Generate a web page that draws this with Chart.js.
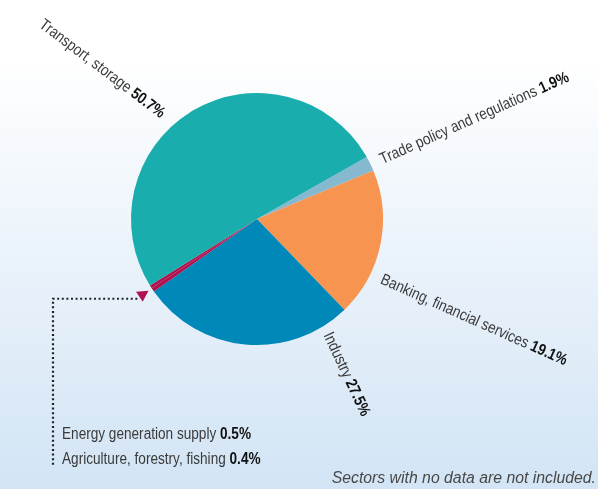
<!DOCTYPE html>
<html>
<head>
<meta charset="utf-8">
<script src="https://cdn.jsdelivr.net/npm/chart.js@4"></script>
<style>
  html, body { margin: 0; padding: 0; }
  body {
    width: 598px;
    height: 489px;
    overflow: hidden;
    background: linear-gradient(to bottom, #ffffff 12%, #d2e4f5 100%);
  }
  #wrap { position: relative; width: 598px; height: 489px; }
</style>
</head>
<body>
<div id="wrap"><canvas id="grafica" width="598" height="489"></canvas></div>
<script>
// sectors, in drawing order (clockwise from the trade slice)
const sectores = [
  "Trade policy and regulations",
  "Banking, financial services",
  "Industry",
  "Energy generation supply",
  "Agriculture, forestry, fishing",
  "Transport, storage"
];
const porcentajes = [1.9, 19.1, 27.5, 0.5, 0.4, 50.7];
const colores = ["#86b8cf", "#f7944f", "#0088b8", "#b0124f", "#b0124f", "#1aadad"];
const nota = "Sectors with no data are not included.";

// where the rotated labels sit around the pie (angle from centre, text rotation)
const etiquetas = [
  { idx: 0, angulo: -25.4, giro: -24, separacion: 11, alinear: "left" },
  { idx: 1, angulo: 25.8, giro: 24, separacion: 12, alinear: "left" },
  { idx: 2, angulo: 58.4, giro: 65, separacion: 8, alinear: "left" },
  { idx: 5, angulo: 227.9, giro: 37, separacion: 14, alinear: "right" }
];
// the two tiny slices are explained in the corner instead
const notasAbajo = [3, 4];

// no condensed font here, so squeeze a normal one
const fuente = '"Liberation Sans", Arial, sans-serif';
const estrechar = 0.85;

function textoConPorcentaje(ctx, nombre, valor, alinear) {
  ctx.scale(estrechar, 1);
  ctx.font = "16px " + fuente;
  const parte1 = nombre + " ";
  const ancho1 = ctx.measureText(parte1).width;
  ctx.font = "bold 16px " + fuente;
  const parte2 = valor.toFixed(1) + "%";
  const ancho2 = ctx.measureText(parte2).width;
  let x = alinear === "right" ? -(ancho1 + ancho2) : 0;
  ctx.font = "16px " + fuente;
  ctx.fillStyle = "#3a3a3a";
  ctx.fillText(parte1, x, 0);
  ctx.font = "bold 16px " + fuente;
  ctx.fillStyle = "#111111";
  ctx.fillText(parte2, x + ancho1, 0);
}

const pluginEtiquetas = {
  id: "etiquetas",
  afterDraw(chart) {
    const ctx = chart.ctx;
    const arcos = chart.getDatasetMeta(0).data;
    const cx = arcos[0].x;
    const cy = arcos[0].y;
    const radio = arcos[0].outerRadius;

    ctx.save();
    ctx.textBaseline = "middle";
    etiquetas.forEach((e) => {
      const a = (e.angulo * Math.PI) / 180;
      const r = radio + e.separacion;
      ctx.save();
      ctx.translate(cx + r * Math.cos(a), cy + r * Math.sin(a));
      ctx.rotate((e.giro * Math.PI) / 180);
      textoConPorcentaje(ctx, sectores[e.idx], porcentajes[e.idx], e.alinear);
      ctx.restore();
    });
    ctx.restore();

    // arrow pointing at the small magenta wedge
    const arcoA = arcos[notasAbajo[0]];
    const arcoB = arcos[notasAbajo[1]];
    const medio = (arcoA.startAngle + arcoB.endAngle) / 2;
    const punta = {
      x: cx + (radio + 4) * Math.cos(medio),
      y: cy + (radio + 4) * Math.sin(medio)
    };
    const dir = medio + Math.PI;
    const largo = 11;
    const base = { x: punta.x - largo * Math.cos(dir), y: punta.y - largo * Math.sin(dir) };
    const perp = dir + Math.PI / 2;
    ctx.save();
    ctx.fillStyle = "#b0124f";
    ctx.beginPath();
    ctx.moveTo(punta.x, punta.y);
    ctx.lineTo(base.x + 6 * Math.cos(perp), base.y + 6 * Math.sin(perp));
    ctx.lineTo(base.x - 6 * Math.cos(perp), base.y - 6 * Math.sin(perp));
    ctx.closePath();
    ctx.fill();

    // dotted leader line
    const xLinea = 53;
    const yAbajo = 466;
    ctx.strokeStyle = "#222222";
    ctx.lineWidth = 2.2;
    ctx.setLineDash([2, 2.6]);
    ctx.beginPath();
    ctx.moveTo(base.x - 2, base.y + 2);
    ctx.lineTo(xLinea, base.y + 2);
    ctx.lineTo(xLinea, yAbajo);
    ctx.stroke();
    ctx.setLineDash([]);

    ctx.textBaseline = "alphabetic";
    notasAbajo.forEach((idx, i) => {
      ctx.save();
      ctx.translate(62, 439 + i * 25);
      textoConPorcentaje(ctx, sectores[idx], porcentajes[idx], "left");
      ctx.restore();
    });

    ctx.font = "italic 15.8px " + fuente;
    ctx.fillStyle = "#484848";
    ctx.textAlign = "right";
    ctx.fillText(nota, 596, 483);
    ctx.restore();
  }
};

function configuracionDeLaGrafica() {
  return {
    type: "pie",
    data: {
      labels: sectores,
      datasets: [
        {
          data: porcentajes,
          backgroundColor: colores,
          borderWidth: 0
        }
      ]
    },
    options: {
      responsive: false,
      animation: false,
      rotation: 60.5,
      layout: { padding: { left: 131, right: 215, top: 93, bottom: 144 } },
      plugins: {
        legend: { display: false },
        tooltip: { enabled: false }
      }
    },
    plugins: [pluginEtiquetas]
  };
}

function renderDeLaGrafica() {
  const graficaDOM = document.querySelector("#grafica");
  new Chart(graficaDOM, configuracionDeLaGrafica());
}

renderDeLaGrafica();
</script>
</body>
</html>
